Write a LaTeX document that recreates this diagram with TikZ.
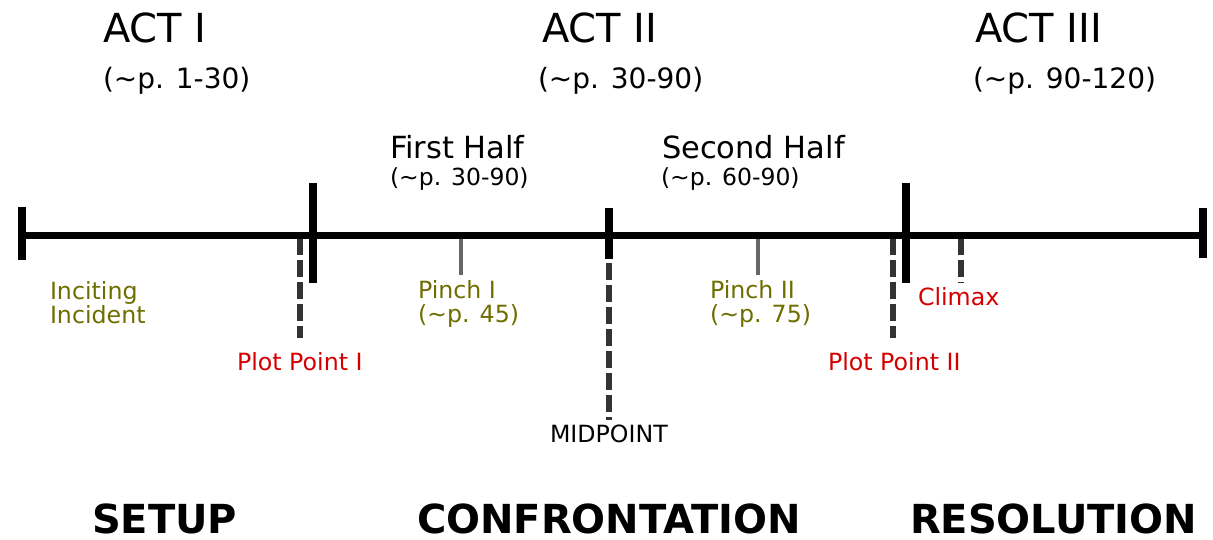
\documentclass[tikz,border=0pt]{standalone}
\usepackage{fontspec}
\setmainfont{DejaVu Sans}
\definecolor{olive}{HTML}{6E6E00}
\definecolor{redlbl}{HTML}{D40000}
\definecolor{dash}{HTML}{333333}
\definecolor{pinch}{HTML}{666666}
\begin{document}
\begin{tikzpicture}[x=1pt,y=-1pt,
  lbl/.style={anchor=base west,inner sep=0pt,outer sep=0pt},
  actlbl/.style={lbl,font=\fontsize{40}{48}\selectfont},
  pagelbl/.style={lbl,font=\fontsize{28}{34}\selectfont},
  halflbl/.style={lbl,font=\fontsize{30.5}{36}\selectfont},
  halfpage/.style={lbl,font=\fontsize{23.5}{28}\selectfont},
  evlbl/.style={lbl,font=\fontsize{23.7}{24}\selectfont,align=left},
  olivelbl/.style={evlbl,text=olive},
  redl/.style={evlbl,text=redlbl},
  biglbl/.style={lbl,font=\bfseries\fontsize{40}{48}\selectfont},
  mainline/.style={line width=7pt},
  bigtick/.style={line width=7.5pt},
  dashln/.style={draw=dash,line width=5.5pt,dash pattern=on 17pt off 5pt},
  pinchln/.style={draw=pinch,line width=4.5pt}]
\useasboundingbox (0,0) rectangle (1213,539);
% timeline coordinates
\coordinate (L) at (22,235);
\coordinate (R) at (1203,235);
\coordinate (Lt) at (22,207);
\coordinate (Lb) at (22,260);
\coordinate (Rt) at (1203,208);
\coordinate (Rb) at (1203,258);
\coordinate (A1t) at (313,183);
\coordinate (A1b) at (313,283);
\coordinate (A2t) at (906,183);
\coordinate (A2b) at (906,283);
\coordinate (Mt) at (609,208);
\coordinate (Mb) at (609,259);
\coordinate (Md0) at (609,263);
\coordinate (Md1) at (609,420);
\coordinate (P1a) at (300,238);
\coordinate (P1b) at (300,338);
\coordinate (P2a) at (893,238);
\coordinate (P2b) at (893,338);
\coordinate (Ca) at (961,238);
\coordinate (Cb) at (961,283);
\coordinate (Pi1a) at (461,238);
\coordinate (Pi1b) at (461,275);
\coordinate (Pi2a) at (758,238);
\coordinate (Pi2b) at (758,275);
% lines
\draw[dashln] (P1a) -- (P1b);
\draw[dashln] (P2a) -- (P2b);
\draw[dashln] (Ca) -- (Cb);
\draw[dashln] (Md0) -- (Md1);
\draw[pinchln] (Pi1a) -- (Pi1b);
\draw[pinchln] (Pi2a) -- (Pi2b);
\draw[mainline] (L) -- (R);
\draw[bigtick] (Lt) -- (Lb);
\draw[bigtick] (Rt) -- (Rb);
\draw[bigtick] (A1t) -- (A1b);
\draw[bigtick] (A2t) -- (A2b);
\draw[bigtick] (Mt) -- (Mb);
% act labels
\node[actlbl] (act1) at (103,42) {ACT I};
\node[pagelbl] (act1p) at (103,88) {(\char"223C p. 1-30)};
\node[actlbl] (act2) at (542,42) {ACT II};
\node[pagelbl] (act2p) at (538,88) {(\char"223C p. 30-90)};
\node[actlbl] (act3) at (975,42) {ACT III};
\node[pagelbl] (act3p) at (973,88) {(\char"223C p. 90-120)};
% halves
\node[halflbl] (h1) at (390,158) {First Half};
\node[halfpage] (h1p) at (390,185) {(\char"223C p. 30-90)};
\node[halflbl] (h2) at (662,158) {Second Half};
\node[halfpage] (h2p) at (661,185) {(\char"223C p. 60-90)};
% events
\node[olivelbl] (inc) at (50,323) {Inciting\\Incident};
\node[redl] (pp1) at (237,370) {Plot Point I};
\node[olivelbl] (pin1) at (418,322) {Pinch I\\(\char"223C p. 45)};
\node[olivelbl] (pin2) at (710,322) {Pinch II\\(\char"223C p. 75)};
\node[evlbl] (mid) at (550,442) {MIDPOINT};
\node[redl] (clim) at (918,305) {Climax};
\node[redl] (pp2) at (828,370) {Plot Point II};
% bottom
\node[biglbl] (setup) at (92,533) {SETUP};
\node[biglbl] (conf) at (417,533) {CONFRONTATION};
\node[biglbl] (res) at (910,533) {RESOLUTION};
\end{tikzpicture}
\end{document}
